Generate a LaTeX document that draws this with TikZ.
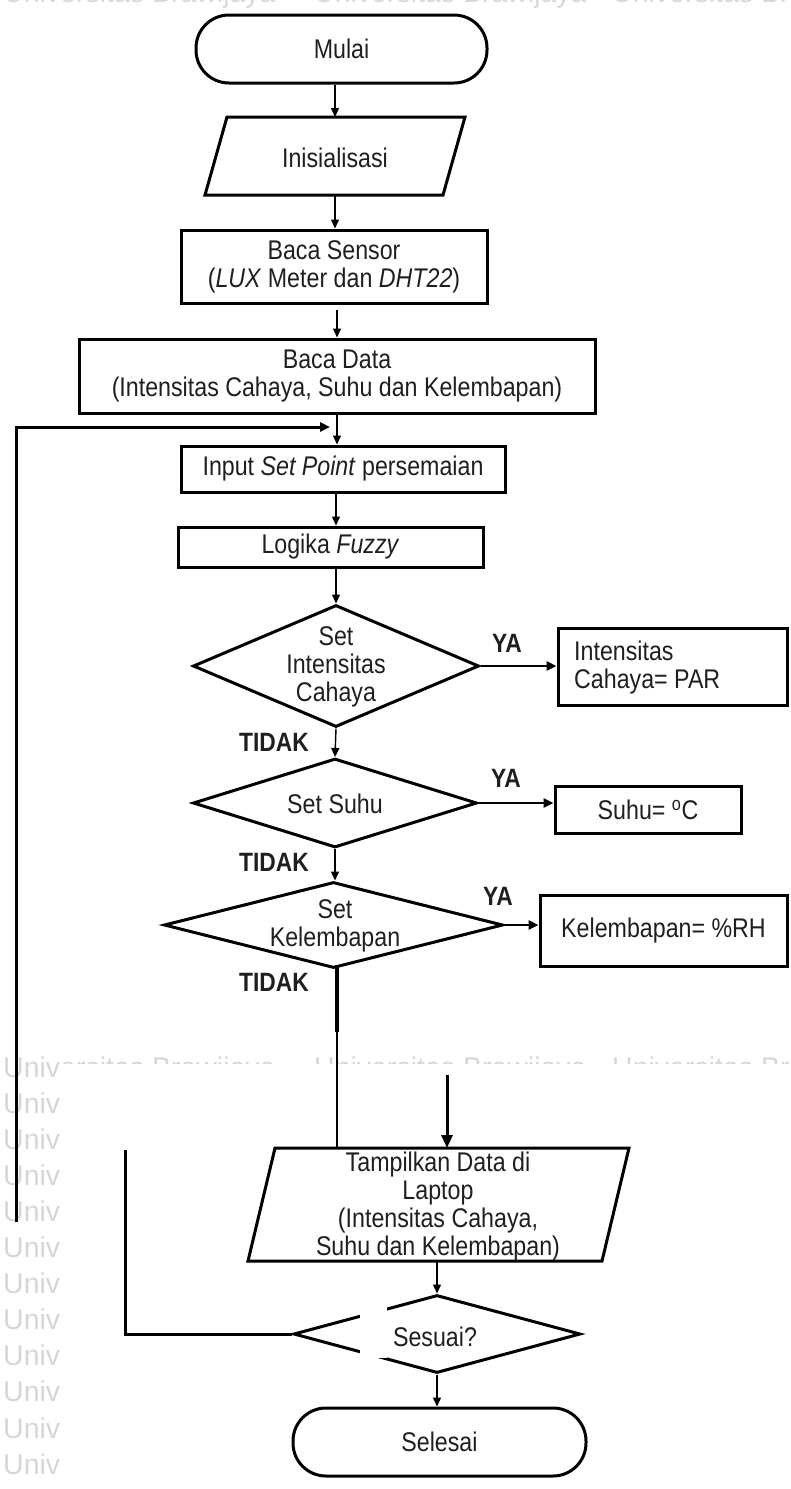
\documentclass[tikz,border=0pt]{standalone}
\usepackage{fontspec}
\setmainfont{Liberation Sans}
\newfontfamily\narrowfont[FakeStretch=0.86]{Liberation Sans}
\usetikzlibrary{shapes.geometric,arrows.meta}
\definecolor{wmc}{gray}{0.84}
\definecolor{txt}{gray}{0.12}
\begin{document}
\begin{tikzpicture}[x=1pt,y=-1pt,
  lbl/.style={font=\narrowfont\fontsize{27}{28}\selectfont, text=txt, align=center, inner sep=0pt},
  bold/.style={font=\narrowfont\fontsize{26.5}{28}\selectfont\bfseries, text=txt, inner sep=0pt},
  wmark/.style={font=\fontsize{28.5}{30}\selectfont, text=wmc, anchor=base west, inner sep=0pt},
  pbox/.style={draw, line width=3pt, rectangle, inner sep=0pt, lbl},
  term/.style={pbox, rounded corners=33pt},
  dia/.style={draw, line width=3pt, diamond, inner sep=0pt},
  pframe/.style={rectangle, inner sep=0pt, outer sep=0pt},
  arr/.style={line width=1.4pt, -{Triangle[length=9pt,width=8pt]}},
  arrb/.style={line width=2.6pt, -{Triangle[length=10pt,width=9pt]}},
  wire/.style={line width=3pt},
  outline/.style={line width=3pt, line join=miter},
]
\useasboundingbox (0,0) rectangle (791,1489);
% watermark
\begin{scope}
\clip (0,0) rectangle (791,1489);
\foreach \xx in {3,314,612} {
  \node[wmark, text=gray!30] (wt-\xx) at (\xx,2.5) {Universitas Brawijaya};
  \foreach \k in {0,...,12} {
    \node[wmark] (wm-\k-\xx) at (\xx,1077+36.1*\k) {Universitas Brawijaya};
  }
}
\end{scope}
\fill[white] (60,1064) rectangle (791,1489);

% nodes
\node[term, minimum width=291pt, minimum height=68pt] (mulai) at (341.5,49) {Mulai};
\node[pframe, minimum width=260pt, minimum height=78pt] (init) at (335,156) {};
\draw[outline] ([xshift=22pt]init.north west) -- (init.north east) -- ([xshift=-22pt]init.south east) -- (init.south west) -- cycle;
\node[lbl] (initT) at (335,158) {Inisialisasi};
\node[pbox, minimum width=306pt, minimum height=73pt] (sensor) at (334,266.5) {Baca Sensor\\(\textit{LUX} Meter dan \textit{DHT22})};
\node[pbox, minimum width=516pt, minimum height=74pt] (data) at (337,376) {Baca Data\\(Intensitas Cahaya, Suhu dan Kelembapan)};
\node[pbox, minimum width=324pt, minimum height=46pt] (input) at (343,469) {Input \textit{Set Point} persemaian};
\node[pbox, minimum width=305pt, minimum height=40pt] (fuzzy) at (330.5,547) {Logika \textit{Fuzzy}};
\node[dia, minimum width=286pt, minimum height=122pt] (d1) at (336,666) {};
\node[lbl] (d1T) at (336,667) {Set\\Intensitas\\Cahaya};
\node[pbox, minimum width=229pt, minimum height=77pt] (par) at (672.5,666.5) {};
\node[lbl, anchor=west, align=left] (parT) at (574,668) {Intensitas\\Cahaya= PAR};
\node[dia, minimum width=284pt, minimum height=89pt] (d2) at (335,803) {};
\node[lbl] (d2T) at (335,804) {Set Suhu};
\node[pbox, minimum width=186pt, minimum height=47pt] (suhu) at (648,809.5) {Suhu= \textsuperscript{o}C};
\node[dia, minimum width=339pt, minimum height=86pt] (d3) at (333.5,925) {};
\node[lbl] (d3T) at (335,926) {Set\\Kelembapan};
\node[pbox, minimum width=247pt, minimum height=71pt] (rh) at (663.5,930.5) {Kelembapan= \%RH};
\node[pframe, minimum width=381pt, minimum height=113pt] (tamp) at (438.5,1204.5) {};
\draw[outline] ([xshift=27pt]tamp.north west) -- (tamp.north east) -- ([xshift=-27pt]tamp.south east) -- (tamp.south west) -- cycle;
\node[lbl] (tampT) at (438,1207) {Tampilkan Data di\\Laptop\\(Intensitas Cahaya,\\Suhu dan Kelembapan)};
\node[dia, minimum width=287pt, minimum height=78pt] (d4) at (437,1334) {};
\fill[white] (360,1306) rectangle (387,1358);
\node[lbl] (d4T) at (435,1337) {Sesuai?};
\node[term, minimum width=293pt, minimum height=68pt] (selesai) at (439.5,1442) {Selesai};

% labels
\node[bold] (ya1) at (507,643) {YA};
\node[bold] (no1) at (274,742) {TIDAK};
\node[bold] (ya2) at (506,778) {YA};
\node[bold] (no2) at (274,862) {TIDAK};
\node[bold] (ya3) at (498,896) {YA};
\node[bold] (no3) at (274,982) {TIDAK};

% connectors
\draw[arr] (init.north |- mulai.south) -- (init.north);
\draw[arr] (init.south) -- (sensor.north -| init.south);
\draw[arr] (sensor.south -| data.north) ++(0,5) -- (data.north);
\draw[arr] (data.south) -- (data.south |- input.north);
\draw[arr] (input.south -| d1.north) -- (fuzzy.north -| d1.north);
\draw[arr] (fuzzy.south -| d1.north) -- (d1.north);
\draw[arr] (d1.south) -- (d2.north);
\draw[arrb] (d1.east) -- (par.west |- d1.east);
\draw[arr] (d2.south) -- (d3.north -| d2.south);
\draw[arrb] (d2.east) -- (suhu.west |- d2.east);
\draw[arrb] (d3.east) -- (rh.west |- d3.east);

\coordinate (k1) at (337,1032);
\draw[line width=4pt] (d3.south -| k1) ++(0,-5) -- (k1);
\draw[line width=2.6pt] (k1) -- (tamp.north -| k1);

\coordinate (fa) at (447,1075);
\draw[line width=3pt, -{Triangle[length=13pt,width=11pt]}] (fa) -- (fa |- tamp.north);

\coordinate (L1) at (16,1222);
\coordinate (L1a) at (330,427);
\draw[wire, -{Triangle[length=10pt,width=9pt]}] (L1) |- (L1a);

\coordinate (L2) at (125,1150);
\draw[wire] (L2) |- (d4.west);

\draw[arr] (tamp.south -| d4.north) -- (d4.north);
\draw[arr] (d4.south) -- (selesai.north -| d4.south);
\end{tikzpicture}
\end{document}
